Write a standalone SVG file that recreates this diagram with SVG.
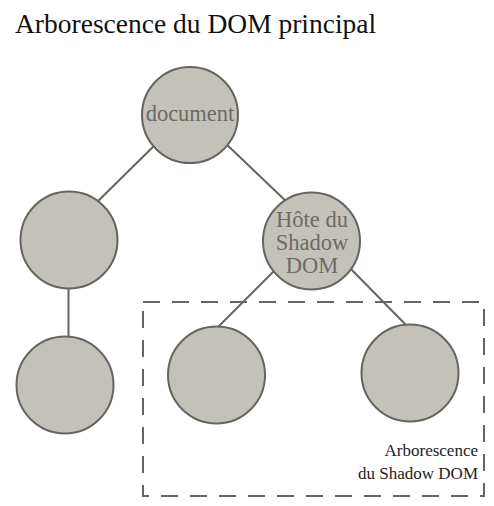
<svg xmlns="http://www.w3.org/2000/svg" width="494" height="506" viewBox="0 0 494 506">
<style>
.node circle{fill:#c4c1ba;stroke:#62665f;stroke-width:2}
.lbl{font-family:"Liberation Serif","Times New Roman",serif;font-size:22.5px;fill:#6a6b65;text-anchor:middle}
.conn line{stroke:#62665f;stroke-width:2}
.note{font-family:"Liberation Serif","Times New Roman",serif;font-size:17px;fill:#222;text-anchor:end}
</style>
<rect width="494" height="506" fill="#fff"/>
<text x="15" y="33" font-family="Liberation Serif, Times New Roman, serif" font-size="27.5" fill="#111">Arborescence du DOM principal</text>
<g id="shadow-boundary">
<rect x="143" y="302" width="341" height="194" fill="none" stroke="#62665f" stroke-width="2" stroke-dasharray="17,12"/>
<text class="note" x="478" y="456">Arborescence</text>
<text class="note" x="478" y="479">du Shadow DOM</text>
</g>
<g id="connectors" class="conn">
<line x1="160" y1="140" x2="92" y2="207"/>
<line x1="222" y1="140" x2="290" y2="205"/>
<line x1="68.5" y1="260" x2="68.5" y2="360"/>
<line x1="280" y1="265" x2="215" y2="330"/>
<line x1="344" y1="262" x2="409" y2="328"/>
</g>
<g id="node-document" class="node">
<circle cx="190" cy="115" r="48"/>
<text class="lbl" x="190" y="121">document</text>
</g>
<g id="node-left" class="node">
<circle cx="69" cy="240" r="48.5"/>
</g>
<g id="node-left-child" class="node">
<circle cx="65" cy="385" r="48.5"/>
</g>
<g id="node-host" class="node">
<circle cx="311.5" cy="241" r="48.5"/>
<text class="lbl" x="312" y="227">Hôte du</text>
<text class="lbl" x="312" y="250">Shadow</text>
<text class="lbl" x="312" y="273">DOM</text>
</g>
<g id="node-shadow-left" class="node">
<circle cx="216.5" cy="375" r="48.5"/>
</g>
<g id="node-shadow-right" class="node">
<circle cx="410" cy="373" r="48.5"/>
</g>
</svg>
